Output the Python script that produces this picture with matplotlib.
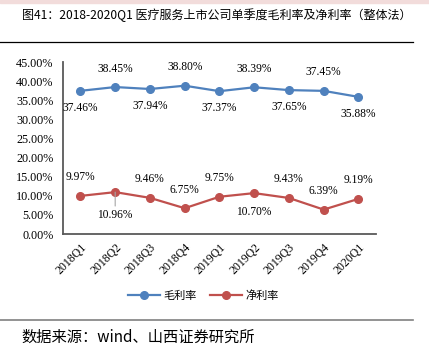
import matplotlib.pyplot as plt
import matplotlib.patches as patches

quarters = ['2018Q1', '2018Q2', '2018Q3', '2018Q4', '2019Q1',
            '2019Q2', '2019Q3', '2019Q4', '2020Q1']
gross = [37.46, 38.45, 37.94, 38.80, 37.37, 38.39, 37.65, 37.45, 35.88]
net = [9.97, 10.96, 9.46, 6.75, 9.75, 10.70, 9.43, 6.39, 9.19]
# label placement: +1 above, -1 below
gross_pos = [-1, 1, -1, 1, -1, 1, -1, 1, -1]
net_pos = [1, -1, 1, 1, 1, -1, 1, 1, 1]

blue = '#4F81BD'
red = '#C0504D'
serif = ['Liberation Serif', 'DejaVu Serif']
cjk = ['Noto Sans CJK SC', 'DejaVu Sans']

fig = plt.figure(figsize=(4.29, 3.47), dpi=100)
ax = fig.add_axes([0.147, 0.3256, 0.729, 0.4957])

x = range(len(quarters))
ax.plot(x, [v / 100 for v in gross], color=blue, lw=1.6, marker='o', ms=5.5, label='毛利率')
ax.plot(x, [v / 100 for v in net], color=red, lw=1.6, marker='o', ms=5.5, label='净利率')

for i, (v, p) in enumerate(zip(gross, gross_pos)):
    off = 9 if p > 0 else -8
    ax.annotate(f'{v:.2f}%', (i, v / 100), xytext=(0, off), textcoords='offset points',
                ha='center', va='bottom' if p > 0 else 'top', fontsize=8.3, family=serif)
for i, (v, p) in enumerate(zip(net, net_pos)):
    off = 9 if p > 0 else -9
    if i == 1:
        ax.annotate(f'{v:.2f}%', (i, v / 100), xytext=(0, -12), textcoords='offset points',
                    ha='center', va='top', fontsize=8.3, family=serif,
                    arrowprops=dict(arrowstyle='-', color='#A6A6A6', lw=0.8, shrinkA=0, shrinkB=0))
        continue
    ax.annotate(f'{v:.2f}%', (i, v / 100), xytext=(0, off), textcoords='offset points',
                ha='center', va='bottom' if p > 0 else 'top', fontsize=8.3, family=serif)

ax.set_xlim(-0.5, len(quarters) - 0.5)
ax.set_ylim(0, 0.45)
ax.set_yticks([i * 0.05 for i in range(10)])
ax.set_yticklabels([f'{i * 5:.2f}%' for i in range(10)], family=serif, fontsize=8.7)
ax.set_xticks(list(x))
ax.set_xticklabels(quarters, rotation=45, ha='right', rotation_mode='anchor',
                   family=serif, fontsize=8.5)
ax.tick_params(axis='y', length=0, pad=7)
ax.tick_params(axis='x', length=0, pad=5)
for s in ['top', 'right']:
    ax.spines[s].set_visible(False)
for s in ['left', 'bottom']:
    ax.spines[s].set_color('#595959')
    ax.spines[s].set_linewidth(1.3)

fig.legend(loc='center', bbox_to_anchor=(0.474, 0.147), ncol=2, frameon=False,
           prop={'family': cjk, 'size': 8}, handlelength=2.9, handletextpad=0.3,
           columnspacing=1.2)

fig.patches.append(patches.Rectangle((0, 0.99), 1, 0.01, transform=fig.transFigure,
                                     color='#F2DCDB', zorder=0))
fig.text(0.051, 0.957, '图41：2018-2020Q1 医疗服务上市公司单季度毛利率及净利率（整体法）',
         family=cjk, fontsize=8.66, va='center')
fig.lines.append(plt.Line2D([0, 0.963], [0.879, 0.879], transform=fig.transFigure,
                            color='black', lw=0.9))
fig.lines.append(plt.Line2D([0, 0.963], [0.078, 0.078], transform=fig.transFigure,
                            color='#808080', lw=1.2))
fig.text(0.051, 0.029, '数据来源：wind、山西证券研究所', family=cjk, fontsize=11, va='center')

plt.savefig('out.png', dpi=100)
